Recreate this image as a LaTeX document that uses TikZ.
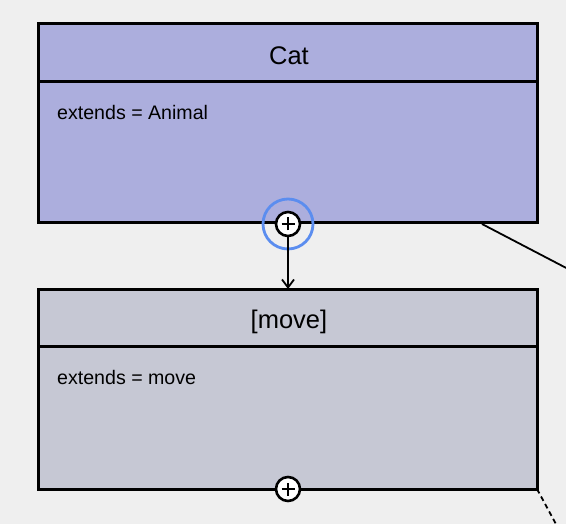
\documentclass[tikz,border=0pt]{standalone}
\usepackage{fontspec}
\setmainfont{Liberation Sans}
\usetikzlibrary{arrows.meta}
\definecolor{bg}{HTML}{EFEFEF}
\definecolor{catfill}{HTML}{ACAEDD}
\definecolor{movefill}{HTML}{C6C8D4}
\definecolor{ring}{HTML}{5B8DEF}
\tikzset{
  boxframe/.style={draw=black, line width=3pt},
  title/.style={font=\fontsize{25.5}{30}\selectfont, anchor=base, inner sep=0pt},
  attr/.style={font=\fontsize{19.6}{23}\selectfont, anchor=base west, inner sep=0pt},
  plusnode/.style={circle, draw=black, fill=white, line width=2.6pt, minimum size=24pt, inner sep=0pt},
  conn/.style={draw=black, line width=1.8pt},
}
\begin{document}
\begin{tikzpicture}[x=1pt,y=-1pt]
\fill[bg] (0,0) rectangle (566,524);
\useasboundingbox (0,0) rectangle (566,524);
% connectors leaving the picture
\coordinate (offA) at (572,271);
\coordinate (offB) at (557,526);
\coordinate (catedge) at (482,224);
\coordinate (moveedge) at (537,489);
\draw[conn] (catedge) -- (offA);
\draw[conn, dash pattern=on 5pt off 3.5pt] (moveedge) -- (offB);
% Cat box
\fill[catfill] (38,24) rectangle (537,223);
\draw[boxframe] (38,24) rectangle (537,223);
\draw[boxframe] (38,82) -- (537,82);
\node[title] (cattitle) at (289,64.3) {Cat};
\node[attr] (catattr) at (57,120) {extends = Animal};
% move box
\fill[movefill] (38,290) rectangle (537,489);
\draw[boxframe] (38,290) rectangle (537,489);
\draw[boxframe] (38,347) -- (537,347);
\node[title] (movetitle) at (289,329) {[move]};
\node[attr] (moveattr) at (57,384.3) {extends = move};
\coordinate (movetop) at (288,289);
% plus nodes
\node[plusnode] (catplus) at (288,224) {};
\draw[line width=2.6pt] ([xshift=-6.5pt]catplus.center) -- ([xshift=6.5pt]catplus.center)
  ([yshift=-6.5pt]catplus.center) -- ([yshift=6.5pt]catplus.center);
\draw[ring, line width=2.8pt] (catplus.center) circle (25);
\node[plusnode] (moveplus) at (288,489) {};
\draw[line width=2.6pt] ([xshift=-6.5pt]moveplus.center) -- ([xshift=6.5pt]moveplus.center)
  ([yshift=-6.5pt]moveplus.center) -- ([yshift=6.5pt]moveplus.center);
\draw[conn, -{Straight Barb[length=8pt,width=12pt]}] (catplus.south) -- (movetop);
\end{tikzpicture}
\end{document}
